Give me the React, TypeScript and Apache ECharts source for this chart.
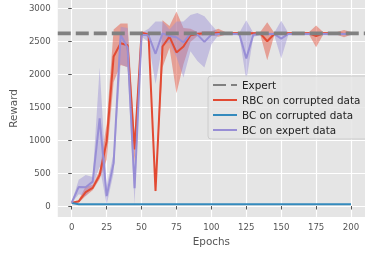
import { useEffect, useRef } from "react";
import * as echarts from "echarts";

const epochs = [0, 5, 10, 15, 20, 25, 30, 35, 40, 45, 50, 55, 60, 65, 70, 75, 80, 85, 90, 95, 100, 105, 110, 115, 120, 125, 130, 135, 140, 145, 150, 155, 160, 165, 170, 175, 180, 185, 190, 195, 200];

const expertReward = 2620;

const rbcMean = [50, 70, 210, 275, 470, 980, 2270, 2470, 2440, 860, 2630, 2600, 230, 2420, 2570, 2330, 2420, 2590, 2610, 2620, 2620, 2630, 2620, 2620, 2620, 2620, 2620, 2620, 2500, 2610, 2620, 2620, 2620, 2620, 2620, 2580, 2620, 2620, 2620, 2610, 2620];
const rbcLow = [45, 50, 150, 240, 410, 700, 1880, 2140, 2110, 650, 2600, 2570, 200, 2100, 2400, 1710, 2150, 2490, 2580, 2590, 2590, 2570, 2600, 2600, 2600, 2600, 2600, 2600, 2210, 2590, 2600, 2600, 2600, 2600, 2600, 2410, 2600, 2600, 2600, 2560, 2600];
const rbcHigh = [55, 90, 300, 320, 540, 1250, 2680, 2770, 2770, 1080, 2650, 2630, 260, 2820, 2730, 2950, 2700, 2690, 2640, 2650, 2650, 2690, 2640, 2640, 2640, 2640, 2640, 2640, 2790, 2630, 2640, 2640, 2640, 2640, 2640, 2740, 2640, 2640, 2640, 2670, 2640];

const bcCorrupted = [45, 25, 25, 25, 25, 25, 25, 25, 25, 25, 25, 25, 25, 25, 25, 25, 25, 25, 25, 25, 25, 25, 25, 25, 25, 25, 25, 25, 25, 25, 25, 25, 25, 25, 25, 25, 25, 25, 25, 25, 25];

const bcExpertMean = [50, 290, 285, 370, 1330, 150, 650, 2600, 2400, 270, 2600, 2590, 2310, 2620, 2580, 2560, 2480, 2620, 2600, 2490, 2600, 2610, 2610, 2610, 2610, 2240, 2600, 2610, 2610, 2610, 2540, 2610, 2610, 2610, 2610, 2610, 2610, 2610, 2610, 2610, 2610];
const bcExpertLow = [45, 180, 150, 300, 600, 20, 500, 2150, 2100, 30, 2570, 2490, 1850, 2440, 2480, 2260, 1950, 2350, 2200, 2100, 2450, 2590, 2590, 2590, 2590, 1900, 2570, 2590, 2590, 2590, 2240, 2590, 2590, 2590, 2590, 2590, 2590, 2590, 2590, 2590, 2590];
const bcExpertHigh = [55, 400, 470, 440, 2100, 300, 800, 2720, 2700, 520, 2630, 2690, 2800, 2800, 2680, 2800, 2800, 2900, 2930, 2880, 2750, 2630, 2630, 2630, 2630, 2820, 2630, 2630, 2630, 2630, 2810, 2630, 2630, 2630, 2630, 2630, 2630, 2630, 2630, 2630, 2630];

const xTicks = [0, 25, 50, 75, 100, 125, 150, 175, 200];
const yTicks = [0, 500, 1000, 1500, 2000, 2500, 3000];

const RED = "#E24A33";
const BLUE = "#348ABD";
const PURPLE = "#988ED5";
const GRAY = "#808080";

function band(key: string, low: number[], high: number[], color: string) {
  return {
    type: "custom",
    name: key + "_band",
    silent: true,
    clip: true,
    z: 1,
    data: [[epochs[0], low[0]]],
    renderItem: (_params: any, api: any) => {
      const pts: number[][] = [];
      for (let i = 0; i < epochs.length; i++) pts.push(api.coord([epochs[i], high[i]]));
      for (let i = epochs.length - 1; i >= 0; i--) pts.push(api.coord([epochs[i], low[i]]));
      return {
        type: "polygon",
        shape: { points: pts },
        style: { fill: color, opacity: 0.45, stroke: "none" },
      };
    },
  };
}

export default function App() {
  const ref = useRef<HTMLDivElement>(null);
  useEffect(() => {
    if (!ref.current) return;
    const chart = echarts.init(ref.current, null, { renderer: "svg" });
    const font = "DejaVu Sans";
    chart.setOption({
      animation: false,
      textStyle: { fontFamily: font },
      grid: {
        left: 55,
        top: 0,
        width: 316,
        height: 217,
        show: true,
        backgroundColor: "#E5E5E5",
        borderWidth: 0,
      },
      xAxis: {
        type: "value",
        min: -10,
        max: 210,
        name: "Epochs",
        nameLocation: "middle",
        nameGap: 14,
        nameTextStyle: { color: "#555555", fontSize: 10.4, fontFamily: font },
        axisLine: { show: false },
        axisTick: { show: true, length: 3.5, inside: false, customValues: xTicks, lineStyle: { color: "#555555", width: 1 } },
        axisLabel: { customValues: xTicks, color: "#555555", fontSize: 8.6, margin: 5, fontFamily: font, formatter: (v: number) => String(v) },
        splitLine: { show: true, lineStyle: { color: "#FFFFFF", width: 1.2 } },
      },
      yAxis: {
        type: "value",
        min: -167,
        max: 3126,
        name: "Reward",
        nameLocation: "middle",
        nameGap: 27.5,
        nameTextStyle: { color: "#555555", fontSize: 10.4, fontFamily: font },
        axisLine: { show: false },
        axisTick: { show: true, length: 3.5, inside: false, customValues: yTicks, lineStyle: { color: "#555555", width: 1 } },
        axisLabel: { customValues: yTicks, color: "#555555", fontSize: 8.6, margin: 7, fontFamily: font, formatter: (v: number) => String(v) },
        splitLine: { show: true, lineStyle: { color: "#FFFFFF", width: 1.2 } },
      },
      legend: {
        orient: "vertical",
        left: 208,
        top: 76,
        data: ["Expert", "RBC on corrupted data", "BC on corrupted data", "BC on expert data"],
        itemWidth: 24,
        itemHeight: 10,
        itemGap: 5,
        itemStyle: { opacity: 0 },
        padding: [4, 12, 4, 4],
        backgroundColor: "rgba(229,229,229,0.85)",
        borderColor: "#CCCCCC",
        borderWidth: 1,
        borderRadius: 3,
        textStyle: { color: "#222222", fontSize: 10.4, fontFamily: font },
      },
      series: [
        band("rbc", rbcLow, rbcHigh, RED),
        band("bce", bcExpertLow, bcExpertHigh, PURPLE),
        {
          type: "line",
          name: "RBC on corrupted data",
          data: epochs.map((e, i) => [e, rbcMean[i]]),
          symbol: "none",
          color: RED,
          lineStyle: { color: RED, width: 2 },
          z: 3,
        },
        {
          type: "line",
          name: "BC on corrupted data",
          data: epochs.map((e, i) => [e, bcCorrupted[i]]),
          symbol: "none",
          color: BLUE,
          lineStyle: { color: BLUE, width: 2 },
          z: 3,
        },
        {
          type: "line",
          name: "BC on expert data",
          data: epochs.map((e, i) => [e, bcExpertMean[i]]),
          symbol: "none",
          color: PURPLE,
          lineStyle: { color: PURPLE, width: 2 },
          z: 3,
        },
        {
          type: "line",
          name: "Expert",
          data: [[-10, expertReward], [210, expertReward]],
          symbol: "none",
          color: GRAY,
          lineStyle: { color: GRAY, width: 3.7, type: [13, 5] },
          z: 4,
        },
      ],
    });
    return () => chart.dispose();
  }, []);
  return (
    <div
      ref={ref}
      style={{ position: "fixed", left: 0, top: 0, width: 365, height: 253 }}
    />
  );
}
